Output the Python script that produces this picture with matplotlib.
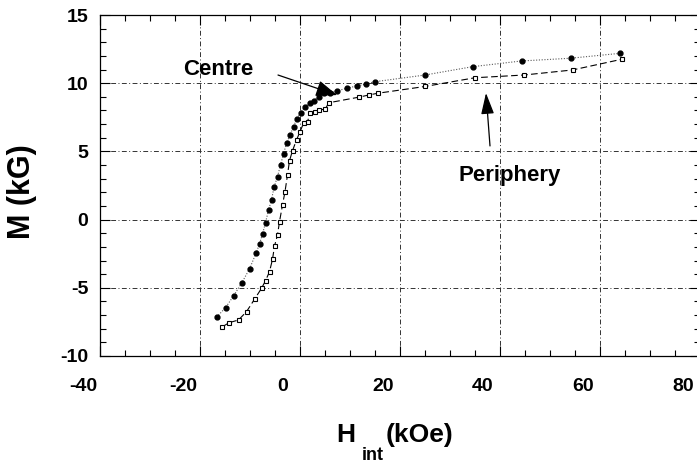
import matplotlib
matplotlib.use("Agg")
import matplotlib.pyplot as plt
import matplotlib.transforms as mtransforms

plt.rcParams['font.family'] = ['Liberation Sans', 'DejaVu Sans']
plt.rcParams['axes.unicode_minus'] = False

# Centre (filled circles)
centre_H = [-16.7, -14.9, -13.3, -11.7, -10.1, -8.8, -8.1, -7.5, -6.9, -6.3, -5.7,
            -5.2, -4.5, -3.9, -3.3, -2.7, -2.0, -1.3, -0.7, 0.1, 1.0, 1.9, 2.7,
            3.7, 4.8, 6.0, 7.4, 9.3, 11.3, 13.1, 15.0, 25.0, 34.5, 44.3, 54.1, 64.0]
centre_M = [-7.16, -6.46, -5.60, -4.67, -3.62, -2.47, -1.79, -1.06, -0.23, 0.70, 1.44,
            2.37, 3.15, 4.00, 4.81, 5.59, 6.20, 6.81, 7.35, 7.84, 8.28, 8.53, 8.72,
            9.01, 9.26, 9.30, 9.43, 9.63, 9.79, 9.94, 10.11, 10.60, 11.21, 11.63, 11.83, 12.19]

# Periphery (open squares)
periph_H = [-15.7, -14.2, -12.3, -10.7, -9.1, -7.7, -6.9, -6.1, -5.5, -5.1, -4.5,
            -4.1, -3.5, -3.0, -2.5, -2.1, -1.5, -0.7, 0.0, 0.7, 1.5, 2.0, 3.0,
            3.7, 5.0, 5.8, 11.7, 13.7, 15.5, 25.0, 35.0, 44.8, 54.5, 64.3]
periph_M = [-7.90, -7.56, -7.36, -6.75, -5.84, -5.04, -4.48, -3.82, -2.91, -1.94, -1.13,
            -0.15, 1.07, 2.05, 3.27, 4.32, 5.05, 5.84, 6.44, 7.06, 7.18, 7.79, 7.91,
            8.04, 8.09, 8.57, 8.97, 9.13, 9.26, 9.76, 10.40, 10.60, 10.97, 11.75]

xticks = [-40, -20, 0, 20, 40, 60, 80]
yticks = [-10, -5, 0, 5, 10, 15]

W, H = 697, 466
fig = plt.figure(figsize=(W / 100, H / 100), dpi=100)
ax = fig.add_axes([100 / W, 1 - 356 / H, 600 / W, 341 / H])

ax.plot(centre_H, centre_M, linestyle=(0, (1, 1.5)), color='0.35', lw=0.8,
        marker='o', ms=3.5, mfc='black', mec='black', zorder=3)
ax.plot(periph_H, periph_M, linestyle=(0, (6, 3)), color='black', lw=0.8,
        marker='s', ms=3.5, mfc='white', mec='black', mew=0.8, zorder=3)

ax.set_xlim(-40, 80)
ax.set_ylim(-10, 15)
ax.set_xticks(xticks)
ax.set_yticks(yticks)
ax.set_xticks(range(-40, 81, 5), minor=True)
ax.set_yticks(range(-10, 16, 1), minor=True)
ax.tick_params(which='both', direction='in', top=True, right=True, width=0.8)
ax.tick_params(which='major', length=7, labelsize=14)
ax.tick_params(which='minor', length=4)
ax.tick_params(axis='x', which='major', pad=16)
ax.tick_params(axis='y', which='major', pad=8.5)
for lab in ax.get_xticklabels() + ax.get_yticklabels():
    lab.set_fontweight('bold')
offset = mtransforms.ScaledTranslation(-17 / 100, 0, fig.dpi_scale_trans)
for lab in ax.get_xticklabels():
    lab.set_transform(lab.get_transform() + offset)

ax.grid(True, which='major', linestyle=(0, (5, 2.5, 1, 2.5)), color='0.2', lw=0.7)
for s in ax.spines.values():
    s.set_linewidth(0.9)

# Annotations
ax.annotate('', xy=(7.4, 9.13), xytext=(-4.4, 10.6),
            arrowprops=dict(arrowstyle='-|>,head_length=1.3,head_width=0.5',
                            color='black', lw=0.9, shrinkA=0, shrinkB=0), zorder=5)
ax.text(-16.4, 10.97, 'Centre', fontsize=16, fontweight='bold', ha='center', va='center')
ax.annotate('', xy=(37.2, 9.28), xytext=(38.0, 5.4),
            arrowprops=dict(arrowstyle='-|>,head_length=1.3,head_width=0.4',
                            color='black', lw=0.9, shrinkA=0, shrinkB=0), zorder=5)
ax.text(42.0, 3.2, 'Periphery', fontsize=16, fontweight='bold', ha='center', va='center')

# Axis labels
fig.text(22 / W, 1 - 192 / H, 'M (kG)', rotation=90, fontsize=22, fontweight='bold',
         ha='center', va='center')
fig.text(336 / W, 1 - 442 / H, 'H', fontsize=19, fontweight='bold', ha='left', va='baseline')
fig.text(362 / W, 1 - 460 / H, 'int', fontsize=13, fontweight='bold', ha='left', va='baseline')
fig.text(386 / W, 1 - 442 / H, '(kOe)', fontsize=19, fontweight='bold', ha='left', va='baseline')

fig.savefig('out.png', dpi=100)
